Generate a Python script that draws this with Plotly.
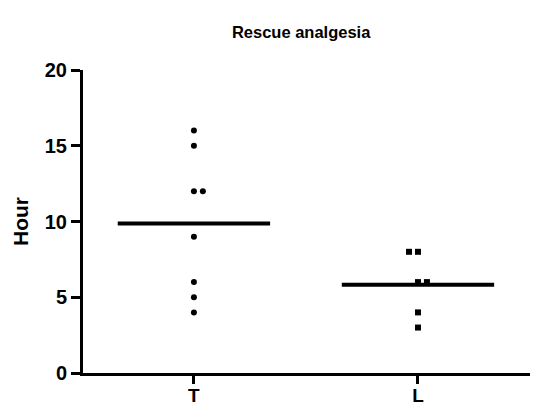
import plotly.graph_objects as go

categories = ["T", "L"]
t_values = [16, 15, 12, 12, 9, 6, 5, 4]
l_values = [8, 8, 6, 6, 4, 3]
y_ticks = [0, 5, 10, 15, 20]

# horizontal jitter offsets (style) for overlapping points
t_jitter = [0, 0, 0, 0.04, 0, 0, 0, 0]
l_jitter = [-0.04, 0, 0, 0.04, 0, 0]

font_family = "Arial, Liberation Sans, sans-serif"

fig = go.Figure()
fig.add_trace(go.Scatter(
    x=[0 + j for j in t_jitter], y=t_values, mode="markers",
    marker=dict(symbol="circle", size=6, color="black"),
    showlegend=False, cliponaxis=False))
fig.add_trace(go.Scatter(
    x=[1 + j for j in l_jitter], y=l_values, mode="markers",
    marker=dict(symbol="square", size=6, color="black"),
    showlegend=False, cliponaxis=False))

# mean lines
half = 0.34
for i, vals in enumerate([t_values, l_values]):
    m = sum(vals) / len(vals)
    fig.add_trace(go.Scatter(
        x=[i - half, i + half], y=[m, m], mode="lines",
        line=dict(color="black", width=4), showlegend=False,
        hoverinfo="skip"))

fig.update_layout(
    width=533, height=408,
    margin=dict(l=83, r=3, t=70, b=35),
    paper_bgcolor="white", plot_bgcolor="white",
    font=dict(family=font_family, color="black"),
    title=dict(text="<b>Rescue analgesia</b>", x=0.565, xanchor="center",
               y=0.922, yanchor="middle", font=dict(size=16.5, family=font_family)),
)
fig.update_xaxes(
    range=[-0.495, 1.5], tickmode="array", tickvals=[0, 1],
    ticktext=[f"<b>{c}</b>" for c in categories],
    showline=True, linecolor="black", linewidth=3,
    ticks="outside", ticklen=8, tickwidth=3, tickcolor="black",
    tickfont=dict(size=19, family=font_family), ticklabelstandoff=-5,
    showgrid=False, zeroline=False, automargin=False,
)
fig.update_yaxes(
    range=[0, 20], tickmode="array", tickvals=y_ticks,
    ticktext=[f"<b>{v}</b>" for v in y_ticks],
    showline=True, linecolor="black", linewidth=3,
    ticks="outside", ticklen=9, tickwidth=3, tickcolor="black",
    tickfont=dict(size=20, family=font_family),
    title=dict(text="<b>Hour</b>", font=dict(size=21, family=font_family), standoff=11),
    showgrid=False, zeroline=False, automargin=False,
)

fig.write_html("out.html", config={"displayModeBar": False},
               post_script="document.body.style.margin='0';")
